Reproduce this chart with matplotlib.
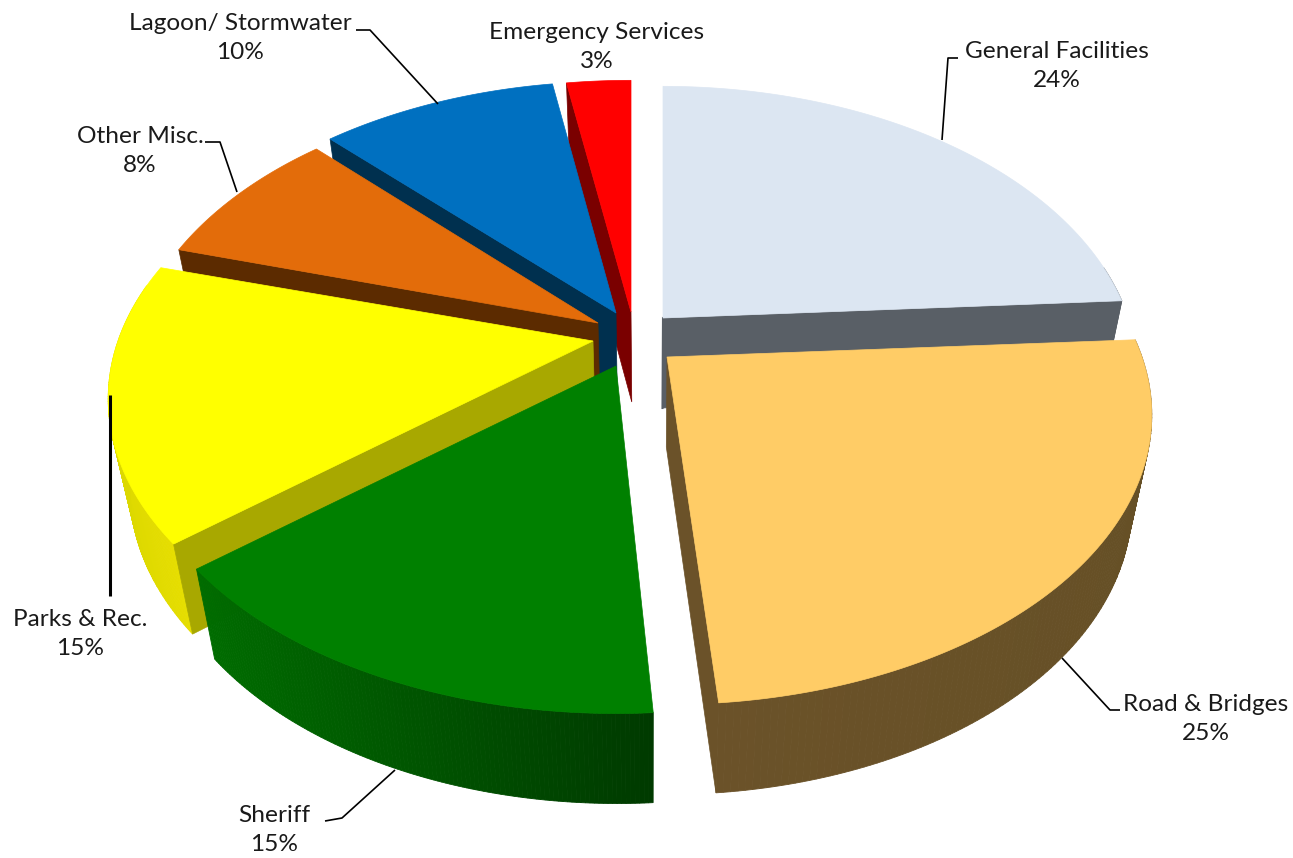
import numpy as np
import matplotlib
matplotlib.use("Agg")
import matplotlib.pyplot as plt
from matplotlib.patches import Polygon
from matplotlib.colors import to_rgb

# The data
categories = ["General Facilities", "Road & Bridges", "Sheriff", "Parks & Rec.",
              "Other Misc.", "Lagoon/ Stormwater", "Emergency Services"]
values = [24.0, 25.0, 15.0, 15.49, 8.2, 9.71, 2.6]

# Colours: top, cut face, rim left, rim right
top_colors = ["#dce6f2", "#ffcc66", "#008000", "#ffff00", "#e36c0a", "#0070c0", "#ff0000"]
face_colors = ["#595f66", "#6b5229", "#004d00", "#a8a800", "#5c2b00", "#00304f", "#7a0000"]
rim_left = ["#595f66", "#6b5229", "#006c00", "#dcd800", "#5c2b00", "#00304f", "#7a0000"]
rim_right = ["#595f66", "#665026", "#003a00", "#e6de00", "#5c2b00", "#00304f", "#7a0000"]

# Where each slice's point ends up once pulled out of the pie (pixels)
apex = [(663, 318), (667, 357), (616, 366), (593, 341), (598, 323), (616, 313), (631, 312)]
# some slices are drawn a bit narrower than the rest
x_scale = [0.98, 1, 1, 1, 0.97, 0.985, 1]
# degrees taken off the end of a slice, the gap under Road & Bridges is wider
end_trim = [0, 1.4, 0, 0, 0, 0, 0]

# Leader lines and label centres (pixels)
leaders = [[(942, 140), (948, 58), (958, 58)],
           [(1062, 658), (1110, 710), (1120, 710)],
           [(395, 770), (342, 818), (325, 821)],
           [(110, 395), (110, 596)],
           [(237, 192), (220, 142), (205, 142)],
           [(438, 104), (370, 30), (356, 30)],
           None]
label_xy = [(1057, 66), (1206, 719), (274, 830), (80, 634), (140, 151), (240, 38), (597, 47)]

# Perspective settings
R, RY, P = 475.0, 278.0, 0.2
DEPTH, SHRINK, VX = 90.0, 0.96, 650.0


def project(theta, ax0, ay0, sx):
    u, v = np.sin(theta), np.cos(theta)
    w = 1 + P * v
    return ax0 + sx * R * u / w, ay0 - RY * v / w


def drop(x, y):
    return VX + (x - VX) * SHRINK, y + DEPTH


def blend(c1, c2, t):
    a, b = np.array(to_rgb(c1)), np.array(to_rgb(c2))
    return tuple(a + (b - a) * t)


fig = plt.figure(figsize=(12.93, 8.58), dpi=100)
ax = fig.add_axes([0, 0, 1, 1])
ax.set_xlim(0, 1293)
ax.set_ylim(858, 0)
ax.axis("off")

total = sum(values)
edges = np.cumsum([0] + values) / total * 2 * np.pi

# back slices first, the ones in front cover them
order = [6, 5, 4, 0, 3, 1, 2]
for i in order:
    a0, a1 = edges[i], edges[i + 1] - np.radians(end_trim[i])
    ax0, ay0 = apex[i]
    z = 1 + order.index(i)
    th = np.linspace(a0, a1, 120)
    xs, ys = project(th, ax0, ay0, x_scale[i])
    bx, by = drop(ax0, ay0)

    # outer rim
    for k in range(len(th) - 1):
        if np.cos(th[k]) > 0.2:
            continue
        x1, y1 = drop(xs[k], ys[k])
        x2, y2 = drop(xs[k + 1], ys[k + 1])
        t = (xs[k] - xs.min()) / (xs.max() - xs.min())
        c = blend(rim_left[i], rim_right[i], t)
        ax.add_patch(Polygon([(xs[k], ys[k]), (xs[k + 1], ys[k + 1]), (x2, y2), (x1, y1)],
                             fc=c, ec=c, lw=0.6, zorder=z))

    # cut faces that look towards the viewer
    if np.sin(a0) < -1e-6:
        x1, y1 = drop(xs[0], ys[0])
        ax.add_patch(Polygon([(ax0, ay0), (xs[0], ys[0]), (x1, y1), (bx, by)],
                             fc=face_colors[i], ec=face_colors[i], lw=0.5, zorder=z))
    if np.sin(a1) > 1e-6:
        x1, y1 = drop(xs[-1], ys[-1])
        ax.add_patch(Polygon([(ax0, ay0), (xs[-1], ys[-1]), (x1, y1), (bx, by)],
                             fc=face_colors[i], ec=face_colors[i], lw=0.5, zorder=z))
    # thin dark edge on the General Facilities slice
    if i == 0:
        ax.plot([ax0, bx], [ay0, by], color=face_colors[i], lw=1.5, zorder=z)

    ax.add_patch(Polygon(list(zip(xs, ys)) + [(ax0, ay0)], fc=top_colors[i], ec=top_colors[i],
                         lw=0.5, zorder=z))

# leaders
for i, pts in enumerate(leaders):
    if pts is None:
        continue
    ax.plot([p[0] for p in pts], [p[1] for p in pts], color="black",
            lw=2.2 if i == 3 else 1.2, zorder=20, solid_capstyle="butt")

# labels
for name, val, (x, y) in zip(categories, values, label_xy):
    ax.text(x, y, f"{name}\n{val:.0f}%", ha="center", va="center", family="Lato",
            fontsize=17.6, color="#1a1a1a", linespacing=1.5, zorder=21)

fig.savefig("out.png", dpi=100)
